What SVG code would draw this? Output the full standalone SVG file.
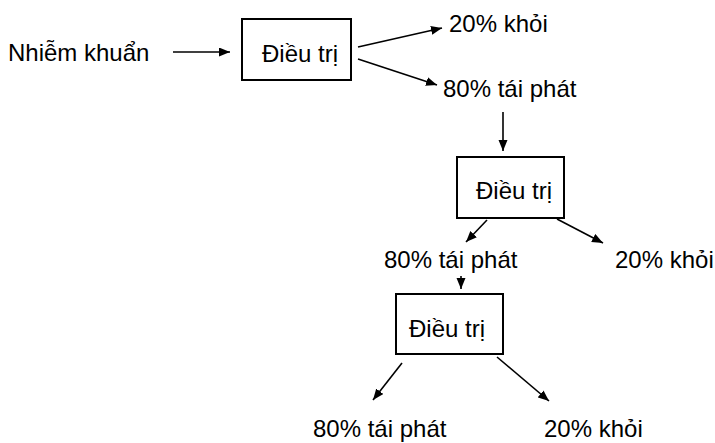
<svg xmlns="http://www.w3.org/2000/svg" width="715" height="443" viewBox="0 0 715 443">
<defs>
<marker id="ah" markerUnits="userSpaceOnUse" markerWidth="12" markerHeight="10" refX="11" refY="4.5" orient="auto">
<path d="M0,0 L11,4.5 L0,9 Z" fill="#000"/>
</marker>
<style>
text{font-family:"Liberation Sans",Arial,sans-serif;font-size:24px;fill:#000}
.box{fill:#fff;stroke:#000;stroke-width:2}
.c{stroke:#000;stroke-width:1.6;fill:none;marker-end:url(#ah)}
</style>
</defs>
<rect width="715" height="443" fill="#fff"/>
<g id="n-start"><text x="8" y="61">Nhiễm khuẩn</text></g>
<g id="n-t1"><rect class="box" x="242" y="19" width="109" height="61"/><text x="262" y="62">Điều trị</text></g>
<g id="n-k1"><text x="449" y="32">20% khỏi</text></g>
<g id="n-r1"><text x="443" y="97">80% tái phát</text></g>
<g id="n-t2"><rect class="box" x="457" y="157" width="107" height="61"/><text x="476" y="199">Điều trị</text></g>
<g id="n-r2"><text x="384" y="268">80% tái phát</text></g>
<g id="n-k2"><text x="615" y="268">20% khỏi</text></g>
<g id="n-t3"><rect class="box" x="396" y="294" width="107" height="60"/><text x="409" y="337">Điều trị</text></g>
<g id="n-r3"><text x="313" y="437">80% tái phát</text></g>
<g id="n-k3"><text x="544" y="437">20% khỏi</text></g>
<g id="connectors">
<line class="c" x1="173" y1="52" x2="230" y2="52"/>
<line class="c" x1="358" y1="47" x2="442" y2="28"/>
<line class="c" x1="358" y1="59" x2="437" y2="85"/>
<line class="c" x1="503" y1="112" x2="503" y2="151"/>
<line class="c" x1="487" y1="220" x2="466" y2="242"/>
<line class="c" x1="557" y1="219" x2="603" y2="243"/>
<line class="c" x1="461" y1="276" x2="461" y2="289"/>
<line class="c" x1="402" y1="363" x2="373" y2="400"/>
<line class="c" x1="497" y1="357" x2="549" y2="401"/>
</g>
</svg>
